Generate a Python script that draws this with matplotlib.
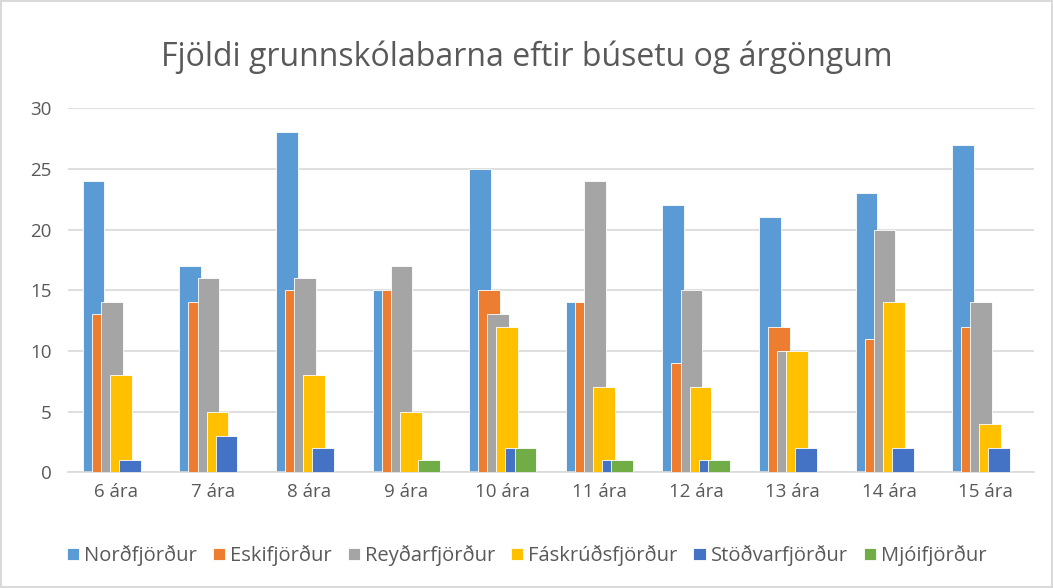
import matplotlib.pyplot as plt
import numpy as np

categories = ["6 ára", "7 ára", "8 ára", "9 ára", "10 ára", "11 ára", "12 ára", "13 ára", "14 ára", "15 ára"]
series_names = ["Norðfjörður", "Eskifjörður", "Reyðarfjörður", "Fáskrúðsfjörður", "Stöðvarfjörður", "Mjóifjörður"]
nordfjordur = [24, 17, 28, 15, 25, 14, 22, 21, 23, 27]
eskifjordur = [13, 14, 15, 15, 15, 14, 9, 12, 11, 12]
reydarfjordur = [14, 16, 16, 17, 13, 24, 15, 10, 20, 14]
faskrudsfjordur = [8, 5, 8, 5, 12, 7, 7, 10, 14, 4]
stodvarfjordur = [1, 3, 2, 0, 2, 1, 1, 2, 2, 2]
mjoifjordur = [0, 0, 0, 1, 2, 1, 1, 0, 0, 0]
colors = ["#5B9BD5", "#ED7D31", "#A5A5A5", "#FFC000", "#4472C4", "#70AD47"]

plt.rcParams["font.family"] = ["Open Sans", "DejaVu Sans"]

fig = plt.figure(figsize=(10.53, 5.88), dpi=100)
fig.patch.set_edgecolor("#D9D9D9")
fig.patch.set_linewidth(1.5)
ax = fig.add_axes([0.0646, 0.197, 0.9174, 0.619])

x = np.arange(len(categories))
width = 0.225
step = 0.094
data = [nordfjordur, eskifjordur, reydarfjordur, faskrudsfjordur, stodvarfjordur, mjoifjordur]
for i, (name, vals) in enumerate(zip(series_names, data)):
    offset = (i - 2.5) * step
    ax.bar(x + offset, vals, width=width, color=colors[i], label=name,
           edgecolor="white", linewidth=0.6, zorder=2 + i)

ax.set_xlim(-0.5, len(categories) - 0.5)
ax.set_ylim(0, 30)
ax.set_yticks(range(0, 31, 5))
ax.set_xticks(x)
ax.set_xticklabels(categories)
ax.yaxis.grid(True, color="#D9D9D9", linewidth=1.2, zorder=0)
ax.set_axisbelow(True)
for side in ["top", "right", "left"]:
    ax.spines[side].set_visible(False)
ax.spines["bottom"].set_color("#D9D9D9")
ax.spines["bottom"].set_linewidth(1.2)
ax.tick_params(axis="both", length=0, labelsize=13.5, labelcolor="#595959", pad=8)
ax.tick_params(axis="y", pad=12)

fig.text(0.5, 0.902, "Fjöldi grunnskólabarna eftir búsetu og árgöngum",
         ha="center", va="center", fontsize=23, color="#595959")

fig.legend(loc="center", bbox_to_anchor=(0.5, 0.055), ncol=6, frameon=False,
           fontsize=14.5, labelcolor="#595959", handlelength=0.6, handleheight=0.6,
           handletextpad=0.25, columnspacing=0.8)

fig.savefig("out.png", dpi=100)
